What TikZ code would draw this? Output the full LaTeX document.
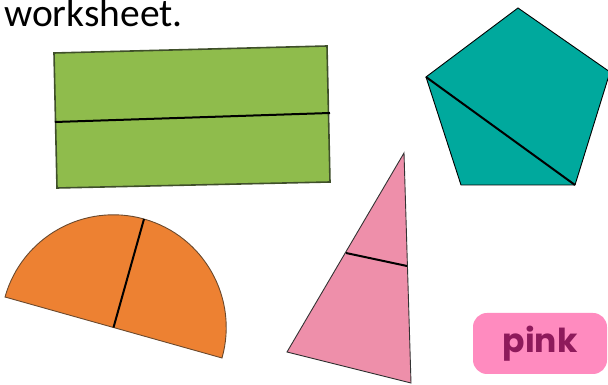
\documentclass[tikz,border=0pt]{standalone}
\usepackage{fontspec}
\setmainfont{Carlito}
\newfontfamily\labelfont{Poppins Bold}
\definecolor{rectgreen}{HTML}{8FBC4C}
\definecolor{rectedge}{HTML}{3F4F2A}
\definecolor{pentteal}{HTML}{00A99D}
\definecolor{semiorange}{HTML}{ED8132}
\definecolor{semiedge}{HTML}{6B4A2E}
\definecolor{tripink}{HTML}{EE8FAA}
\definecolor{tagpink}{HTML}{FF8BBF}
\definecolor{tagtext}{HTML}{8E1A5B}
\tikzset{
  shapeedge/.style={line width=0.9pt, line join=miter},
  divider/.style={line width=2pt, black},
}
\begin{document}
\begin{tikzpicture}[x=1pt,y=1pt]
\useasboundingbox (0,0) rectangle (608,385);
% title text
\node[anchor=base west, inner sep=0pt, font=\fontsize{39.5}{44}\selectfont] (title) at (4,358) {worksheet.};
% green rectangle
\coordinate (r1) at (54,332);
\coordinate (r2) at (327,339);
\coordinate (r3) at (330,203);
\coordinate (r4) at (57,197);
\filldraw[fill=rectgreen, draw=rectedge, line width=1.6pt] (r1) -- (r2) -- (r3) -- (r4) -- cycle;
\coordinate (rl) at (55,263);
\coordinate (rr) at (330,272);
\draw[divider] (rl) -- (rr);
% pentagon
\coordinate (p1) at (518,377);
\coordinate (p2) at (610,313);
\coordinate (p3) at (575,200);
\coordinate (p4) at (461,200);
\coordinate (p5) at (426,308);
\filldraw[fill=pentteal, draw=black, shapeedge] (p1) -- (p2) -- (p3) -- (p4) -- (p5) -- cycle;
\draw[divider] (p5) -- (p3);
% triangle
\coordinate (t1) at (404,232);
\coordinate (t2) at (411,2);
\coordinate (t3) at (287,33);
\filldraw[fill=tripink, draw=black!80, shapeedge] (t1) -- (t2) -- (t3) -- cycle;
\coordinate (tl) at (346,132);
\coordinate (tr) at (407,119);
\draw[divider] (tl) -- (tr);
% semicircle
\coordinate (sc) at (113.5,57.5);
\coordinate (sr) at (222,27);
\coordinate (sl) at (5,88);
\filldraw[fill=semiorange, draw=semiedge, shapeedge] (sr) arc[start angle=-15.7, end angle=164.3, radius=112.7] -- cycle;
\coordinate (stop) at (144,166);
\draw[divider] (sc) -- (stop);
% pink label
\node[fill=tagpink, rounded corners=14pt, minimum width=134pt, minimum height=61pt, inner sep=0pt,
      text=tagtext, font=\labelfont\fontsize{33}{36}\selectfont] (tag) at (540,41.5) {pink};
\end{tikzpicture}
\end{document}
